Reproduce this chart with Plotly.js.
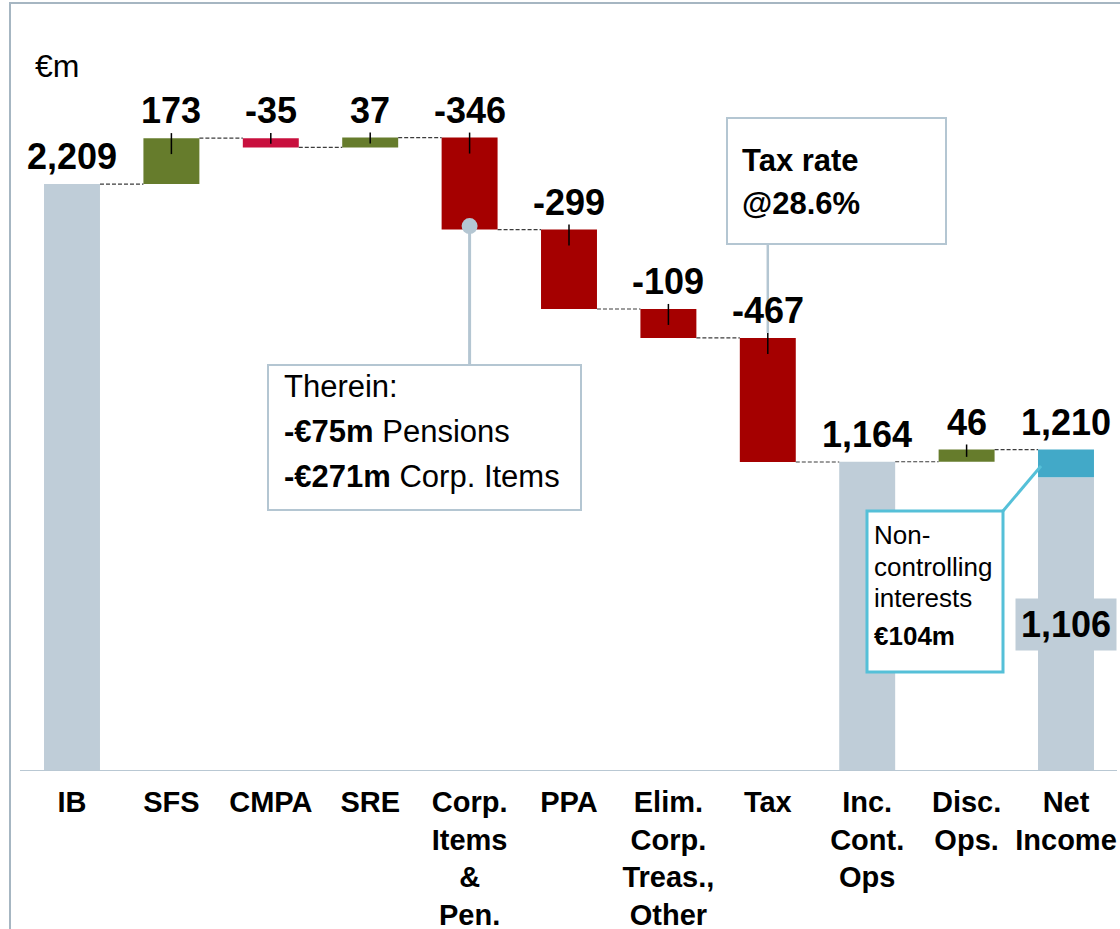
<!DOCTYPE html>
<html>
<head>
<meta charset="utf-8">
<script src="https://cdn.plot.ly/plotly-3.0.1.min.js"></script>
<style>
  html, body { margin: 0; padding: 0; background: #ffffff; }
  #chart { width: 1120px; height: 929px; }
</style>
</head>
<body>
<div id="chart"></div>
<script>
// ---------------- data ----------------
const categories = ['IB', 'SFS', 'CMPA', 'SRE', 'Corp.<br>Items<br>&<br>Pen.', 'PPA',
  'Elim.<br>Corp.<br>Treas.,<br>Other', 'Tax', 'Inc.<br>Cont.<br>Ops', 'Disc.<br>Ops.', 'Net<br>Income'];
const values = [2209, 173, -35, 37, -346, -299, -109, -467, 1164, 46, 1210];
const kinds = ['total', 'delta', 'delta', 'delta', 'delta', 'delta', 'delta', 'delta', 'total', 'delta', 'total'];
const nciValue = 104;          // non-controlling interests, part of Net Income
const unitLabel = '€m';
const taxNote = ['Tax rate', '@28.6%'];
const thereinNote = ['Therein:', '<b>-€75m</b> Pensions', '<b>-€271m</b> Corp. Items'];
const nciNote = ['Non-', 'controlling', 'interests', '<b>€104m</b>'];

// ---------------- styles ----------------
const barColors = ['#bfcdd8', '#667c2c', '#c8103e', '#667c2c', '#a50000', '#a50000',
  '#a50000', '#a50000', '#bfcdd8', '#667c2c', '#bfcdd8'];
const nciColor = '#42a9c8';
const calloutGray = '#b4c6d2';
const nciBorder = '#55c0d8';
const FONT = 'Liberation Sans, Arial, sans-serif';
const W = 1120, PLOT_H = 771, Y_MAX = 2902;
const BAR_W = 0.563;
const X0 = -72 / 99.4, X1 = (W - 72) / 99.4;

// helpers: pixel -> paper coordinates
const px = x => x / W;
const py = y => (PLOT_H - y) / PLOT_H;
const yData = y => (PLOT_H - y) / PLOT_H * Y_MAX;
const fmt = v => Math.abs(v).toLocaleString('en-US');

// ---------------- waterfall geometry from data ----------------
const xs = categories.map((_, i) => i);
const bases = [], heights = [], tops = [], ends = [];
let running = 0;
values.forEach((v, i) => {
  let base, h;
  if (kinds[i] === 'total') { base = 0; h = v; running = v; }
  else { base = running; h = v; running += v; }
  if (i === values.length - 1) h = v - nciValue; // attributable part drawn in gray
  bases.push(base); heights.push(h);
  tops.push(kinds[i] === 'total' ? v : Math.max(base, base + v));
  ends.push(running);
});

const traces = [
  {
    type: 'bar', x: xs, y: heights, base: bases, width: xs.map(() => BAR_W),
    marker: { color: barColors, line: { width: 0 } }, hoverinfo: 'none', showlegend: false
  },
  {
    type: 'bar', x: [values.length - 1], y: [nciValue], base: [values[values.length - 1] - nciValue],
    width: [BAR_W], marker: { color: nciColor, line: { width: 0 } }, hoverinfo: 'none', showlegend: false
  }
];

const shapes = [];
const annotations = [];

// frame
shapes.push({ type: 'rect', xref: 'paper', yref: 'paper', x0: px(10), x1: px(1135), y0: py(945), y1: py(3),
  line: { color: '#a6b6c2', width: 2 }, fillcolor: 'rgba(0,0,0,0)', layer: 'below' });
// axis base line
shapes.push({ type: 'line', xref: 'paper', yref: 'y', x0: px(20), x1: px(1117), y0: 0, y1: 0,
  line: { color: '#b9c8d3', width: 2 }, layer: 'above' });

// connectors
for (let i = 0; i < values.length - 1; i++) {
  shapes.push({ type: 'line', xref: 'x', yref: 'y', x0: i + BAR_W / 2, x1: i + 1 - BAR_W / 2,
    y0: ends[i], y1: ends[i], line: { color: '#3c3c3c', width: 1.2, dash: '4px,2px' } });
}
// tick stubs on delta bars
values.forEach((v, i) => {
  if (kinds[i] !== 'delta') return;
  shapes.push({ type: 'line', xref: 'x', yref: 'y', x0: i, x1: i,
    y0: tops[i] + 19, y1: tops[i] - Math.min(60, Math.abs(v) * 0.6),
    line: { color: '#000000', width: 1.5 } });
});

// value labels
values.forEach((v, i) => {
  const txt = kinds[i] === 'total' ? fmt(v) : (v < 0 ? '-' + fmt(v) : fmt(v));
  annotations.push({ x: i, y: tops[i], xref: 'x', yref: 'y', text: '<b>' + txt + '</b>',
    showarrow: false, xanchor: 'center', yanchor: 'bottom', yshift: 5,
    font: { family: FONT, size: 36, color: '#000000' } });
});
// attributable net income label
const last = values.length - 1;
annotations.push({ x: last, y: heights[last] / 2, xref: 'x', yref: 'y', text: '<b>' + fmt(heights[last]) + '</b>',
  showarrow: false, xanchor: 'center', yanchor: 'middle', bgcolor: '#bfcdd8', borderpad: 5,
  font: { family: FONT, size: 36, color: '#000000' } });

// unit label
annotations.push({ x: px(33), y: py(66), xref: 'paper', yref: 'paper', text: unitLabel, showarrow: false,
  xanchor: 'left', yanchor: 'middle', font: { family: FONT, size: 32, color: '#000000' } });

// Tax callout
shapes.push({ type: 'line', xref: 'x', yref: 'y', x0: 7, x1: 7, y0: tops[7] + 19, y1: yData(244),
  line: { color: calloutGray, width: 2.5 } });
shapes.push({ type: 'rect', xref: 'paper', yref: 'paper', x0: px(727), x1: px(946), y0: py(244), y1: py(118),
  line: { color: calloutGray, width: 2 }, fillcolor: '#ffffff' });
[160, 204].forEach((yy, k) => annotations.push({ x: px(740), y: py(yy), xref: 'paper', yref: 'paper',
  text: '<b>' + taxNote[k] + '</b>', showarrow: false, xanchor: 'left', yanchor: 'middle',
  font: { family: FONT, size: 31, color: '#000000' } }));

// Therein callout
shapes.push({ type: 'line', xref: 'x', yref: 'y', x0: 4, x1: 4, y0: ends[4] + 13, y1: yData(365),
  line: { color: calloutGray, width: 3 } });
shapes.push({ type: 'circle', xref: 'x', yref: 'y', xsizemode: 'pixel', ysizemode: 'pixel',
  xanchor: 4, yanchor: ends[4], x0: -8, x1: 8, y0: -4.5, y1: 11.5,
  fillcolor: calloutGray, line: { color: calloutGray, width: 0 } });
shapes.push({ type: 'rect', xref: 'paper', yref: 'paper', x0: px(268), x1: px(581), y0: py(510), y1: py(365),
  line: { color: calloutGray, width: 2 }, fillcolor: '#ffffff' });
[386, 431, 476].forEach((yy, k) => annotations.push({ x: px(282), y: py(yy), xref: 'paper', yref: 'paper',
  text: thereinNote[k], showarrow: false, xanchor: 'left', yanchor: 'middle',
  font: { family: FONT, size: 31, color: '#000000' } }));

// NCI callout
shapes.push({ type: 'line', xref: 'paper', yref: 'paper', x0: px(1003), y0: py(511), x1: px(1041), y1: py(466),
  line: { color: nciBorder, width: 3 } });
shapes.push({ type: 'rect', xref: 'paper', yref: 'paper', x0: px(867), x1: px(1003), y0: py(672), y1: py(511),
  line: { color: nciBorder, width: 3 }, fillcolor: '#ffffff' });
[535, 567, 598, 636].forEach((yy, k) => annotations.push({ x: px(872), y: py(yy), xref: 'paper', yref: 'paper',
  text: nciNote[k], showarrow: false, xanchor: 'left', yanchor: 'middle',
  font: { family: FONT, size: 26, color: '#000000' } }));

const layout = {
  width: 1120, height: 929,
  margin: { l: 0, r: 0, t: 0, b: 929 - PLOT_H, pad: 0 },
  paper_bgcolor: '#ffffff', plot_bgcolor: '#ffffff',
  barmode: 'overlay', hovermode: false, showlegend: false,
  font: { family: FONT, color: '#000000' },
  xaxis: {
    range: [X0, X1], tickmode: 'array', tickvals: xs, ticktext: categories.map(c => '<b>' + c.split('<br>').join('</b><br><b>') + '</b>'),
    showgrid: false, zeroline: false, showline: false, ticks: '', ticklabelstandoff: 11,
    tickfont: { family: FONT, size: 29, color: '#000000' }, fixedrange: true, automargin: false
  },
  yaxis: { range: [0, Y_MAX], visible: false, showgrid: false, zeroline: false, fixedrange: true },
  shapes: shapes,
  annotations: annotations
};

Plotly.newPlot('chart', traces, layout, { displayModeBar: false, staticPlot: true });
</script>
</body>
</html>
